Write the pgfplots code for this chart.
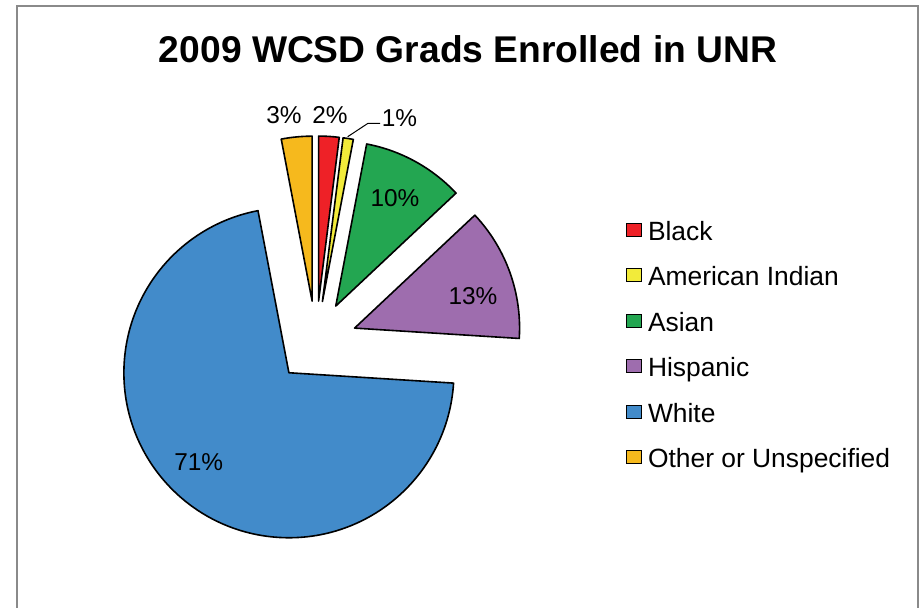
\documentclass[border=0pt]{standalone}
\usepackage{pgfplots}
\pgfplotsset{compat=1.18}
\usepackage{pgfplotstable}
\usepackage{fontspec}
\setmainfont{Liberation Sans}

\definecolor{cBlack}{HTML}{EE2127}
\definecolor{cAmInd}{HTML}{F2EB3A}
\definecolor{cAsian}{HTML}{23A651}
\definecolor{cHisp}{HTML}{9E6DAE}
\definecolor{cWhite}{HTML}{428BCA}
\definecolor{cOther}{HTML}{F6B91D}
\definecolor{framegray}{HTML}{8A8A8A}

% share in percent, slice colour, label position (axis units = pixels)
\pgfplotstableread{
name value color lx ly
Black 2 cBlack 330 493
{American Indian} 1 cAmInd 399.5 490
Asian 10 cAsian 395 409.5
Hispanic 13 cHisp 473 312
White 71 cWhite 198.7 146
Other 3 cOther 284 492.5
}\piedata

\begin{document}
\begin{tikzpicture}
\begin{axis}[
    width=462pt, height=304pt, scale only axis,
    xmin=0, xmax=924, ymin=0, ymax=608,
    hide axis, clip=false,
    legend image code/.code={\draw[#1] (0pt,-1.1pt) rectangle (7.5pt,5.4pt);},
    legend style={at={(axis cs:626,387.2)}, anchor=north west,
        draw=none, fill=none, inner sep=0pt, row sep=9.75pt,
        font=\fontsize{13.2}{15}\selectfont,
        nodes={inner sep=0pt, inner xsep=2.8pt, text height=9.6pt, text depth=3.4pt}},
    legend cell align=left,
]
\addlegendimage{fill=cBlack, draw=black, line width=0.5pt}\addlegendentry{Black}
\addlegendimage{fill=cAmInd, draw=black, line width=0.5pt}\addlegendentry{American Indian}
\addlegendimage{fill=cAsian, draw=black, line width=0.5pt}\addlegendentry{Asian}
\addlegendimage{fill=cHisp, draw=black, line width=0.5pt}\addlegendentry{Hispanic}
\addlegendimage{fill=cWhite, draw=black, line width=0.5pt}\addlegendentry{White}
\addlegendimage{fill=cOther, draw=black, line width=0.5pt}\addlegendentry{Other or Unspecified}

\pgfplotsextra{
  % frame of the chart area
  \draw[framegray, line width=1pt] (axis cs:16.5,-20) -- (axis cs:16.5,601.5)
      -- (axis cs:918,601.5) -- (axis cs:918,-20);
  \node[font=\fontsize{18.6}{22}\selectfont\bfseries] at (axis cs:468,559)
      {2009 WCSD Grads Enrolled in UNR};
  \pgfplotstablegetrowsof{\piedata}
  \pgfmathtruncatemacro\lastrow{\pgfplotsretval-1}
  \xdef\angstart{90}
  \foreach \i in {0,...,\lastrow}{
    \pgfplotstablegetelem{\i}{value}\of\piedata \let\sliceval\pgfplotsretval
    \pgfplotstablegetelem{\i}{color}\of\piedata \let\slicecol\pgfplotsretval
    \pgfplotstablegetelem{\i}{lx}\of\piedata \let\labx\pgfplotsretval
    \pgfplotstablegetelem{\i}{ly}\of\piedata \let\laby\pgfplotsretval
    \pgfmathsetmacro\angend{\angstart-3.6*\sliceval}
    \pgfmathsetmacro\midang{(\angstart+\angend)/2}
    % every slice pulled out from the centre (316,266)
    \pgfmathsetmacro\ox{316+41*cos(\midang)}
    \pgfmathsetmacro\oy{266+41*sin(\midang)}
    \filldraw[fill=\slicecol, draw=black, line width=0.8pt, line join=round]
      (axis cs:\ox,\oy) -- ++(\angstart:82.5pt)
      arc[start angle=\angstart, end angle=\angend, radius=82.5pt] -- cycle;
    \node[font=\fontsize{12.2}{14}\selectfont, inner sep=0pt] at (axis cs:\labx,\laby) {\sliceval\%};
    \xdef\angstart{\angend}
  }
  % leader line for the 1% label
  \draw[black, line width=0.5pt] (axis cs:347.7,471.3) -- (axis cs:368,484.7) -- (axis cs:380,484.7);
}
\end{axis}
\pgfresetboundingbox
\path[use as bounding box] (0,0) rectangle (462pt,304pt);
\end{tikzpicture}
\end{document}
